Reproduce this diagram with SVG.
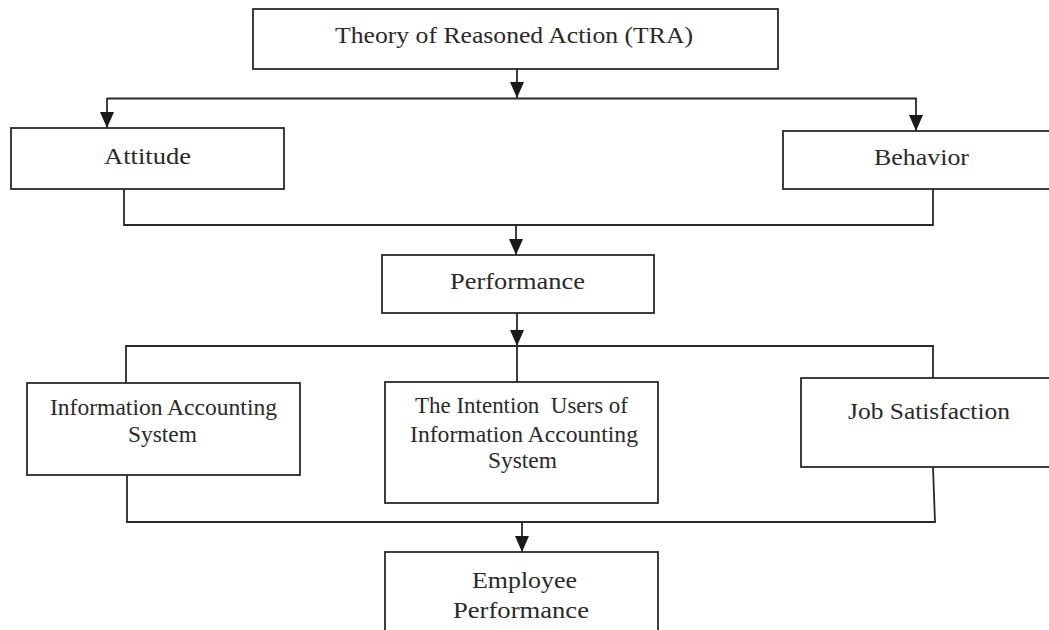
<svg xmlns="http://www.w3.org/2000/svg" width="1049" height="630" viewBox="0 0 1049 630">
<style>
.box{fill:#fff;stroke:#2a2a2a;stroke-width:1.8}
.lbl{font-family:"Liberation Serif","Times New Roman",serif;font-size:23px;fill:#2a2a2a;text-anchor:middle;white-space:pre}
.conn{fill:none;stroke:#2a2a2a;stroke-width:1.8}
</style>
<defs>
<marker id="arrd" markerUnits="userSpaceOnUse" markerWidth="16" markerHeight="14" viewBox="0 0 16 14" refX="16" refY="7" orient="auto">
<path d="M0,0 L16,7 L0,14 Z" fill="#1a1a1a"/>
</marker>
</defs>
<rect width="1049" height="630" fill="#fff"/>
<g id="connectors">
<line class="conn" x1="517" y1="69" x2="517" y2="98" marker-end="url(#arrd)"/>
<line class="conn" x1="107" y1="98.5" x2="917" y2="98.5"/>
<line class="conn" x1="107" y1="98" x2="107" y2="128" marker-end="url(#arrd)"/>
<line class="conn" x1="916" y1="98" x2="916" y2="131" marker-end="url(#arrd)"/>
<path class="conn" d="M124,189 V225 H933 V189"/>
<line class="conn" x1="516" y1="225" x2="516" y2="255" marker-end="url(#arrd)"/>
<line class="conn" x1="517" y1="313" x2="517" y2="346" marker-end="url(#arrd)"/>
<path class="conn" d="M126,383 V346 H933 V378"/>
<line class="conn" x1="517" y1="346" x2="517" y2="382"/>
<path class="conn" d="M127,475 V522 H935 L933,467"/>
<line class="conn" x1="522" y1="522" x2="522" y2="552" marker-end="url(#arrd)"/>
</g>
<g id="tra">
<rect class="box" x="253" y="9" width="525" height="60"/>
<text class="lbl" x="514" y="43" textLength="358" lengthAdjust="spacingAndGlyphs">Theory of Reasoned Action (TRA)</text>
</g>
<g id="attitude">
<rect class="box" x="11" y="128" width="273" height="61"/>
<text class="lbl" x="147.5" y="164" textLength="87" lengthAdjust="spacingAndGlyphs">Attitude</text>
</g>
<g id="behavior">
<rect class="box" x="783" y="131" width="280" height="58"/>
<text class="lbl" x="921.5" y="165" textLength="95" lengthAdjust="spacingAndGlyphs">Behavior</text>
</g>
<g id="performance">
<rect class="box" x="382" y="255" width="272" height="58"/>
<text class="lbl" x="517.5" y="289" textLength="135" lengthAdjust="spacingAndGlyphs">Performance</text>
</g>
<g id="ias">
<rect class="box" x="27" y="383" width="273" height="92"/>
<text class="lbl" x="163.5" y="415" textLength="227" lengthAdjust="spacingAndGlyphs">Information Accounting</text>
<text class="lbl" x="162.5" y="442" textLength="69" lengthAdjust="spacingAndGlyphs">System</text>
</g>
<g id="intention">
<rect class="box" x="385" y="382" width="273" height="121"/>
<text class="lbl" x="521.5" y="413" textLength="213" lengthAdjust="spacingAndGlyphs" xml:space="preserve">The Intention  Users of</text>
<text class="lbl" x="524" y="442" textLength="228" lengthAdjust="spacingAndGlyphs">Information Accounting</text>
<text class="lbl" x="522.5" y="468" textLength="69" lengthAdjust="spacingAndGlyphs">System</text>
</g>
<g id="job">
<rect class="box" x="801" y="378" width="270" height="89"/>
<text class="lbl" x="929" y="419" textLength="162" lengthAdjust="spacingAndGlyphs">Job Satisfaction</text>
</g>
<g id="employee">
<rect class="box" x="385" y="552" width="273" height="100"/>
<text class="lbl" x="524.5" y="588" textLength="105" lengthAdjust="spacingAndGlyphs">Employee</text>
<text class="lbl" x="521" y="618" textLength="136" lengthAdjust="spacingAndGlyphs">Performance</text>
</g>
</svg>
